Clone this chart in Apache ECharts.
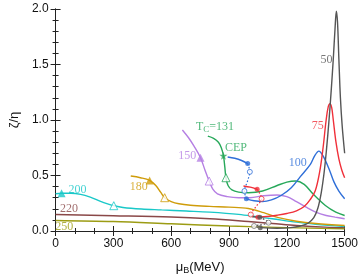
<!DOCTYPE html>
<html><head><meta charset="utf-8">
<script src="https://cdn.jsdelivr.net/npm/echarts/dist/echarts.min.js"></script>
<style>html,body{margin:0;padding:0;background:#fff}#c{width:361px;height:280px}</style>
</head><body><div id="c"></div><script>
// ---- data (mu_B in MeV, zeta/eta) ----
const xTicks = [0, 300, 600, 900, 1200, 1500];
const yTicks = [0.0, 0.5, 1.0, 1.5, 2.0];

const T50_upper = [[1020,0.128],[1060,0.125]];
const T50_meta = [[1060,0.125],[1105,0.075],[1060,0.055],[1030,0.045],[1062,0.03]];
const T50_lower = [[1062,0.03],[1150,0.025],[1220,0.03],[1270,0.045],[1310,0.07],[1340,0.12],[1360,0.2],[1378,0.34],[1393,0.52],[1405,0.72],[1418,0.98],[1430,1.26],[1441,1.55],[1450,1.82],[1457,1.98],[1463,1.88],[1470,1.55],[1478,1.2],[1487,0.95],[1500,0.7]];

const T75_upper = [[975,0.406],[1010,0.395],[1046,0.376]];
const T75_meta = [[1046,0.376],[1069,0.29],[1040,0.22],[1013,0.148],[1050,0.125]];
const T75_lower = [[1050,0.125],[1100,0.13],[1150,0.142],[1200,0.158],[1250,0.182],[1290,0.22],[1320,0.28],[1347,0.36],[1371,0.54],[1388,0.75],[1404,1.0],[1415,1.12],[1424,1.147],[1433,1.11],[1441,1.0],[1455,0.8],[1470,0.65],[1485,0.55],[1500,0.48]];

const T100_upper = [[893,0.667],[930,0.655],[965,0.635],[997,0.607]];
const T100_meta = [[997,0.607],[1008,0.533],[996,0.45],[980,0.36],[990,0.29]];
const T100_lower = [[990,0.29],[1030,0.272],[1074,0.265],[1120,0.28],[1170,0.32],[1223,0.39],[1270,0.49],[1322,0.6],[1345,0.68],[1366,0.72],[1390,0.67],[1421,0.55],[1445,0.44],[1470,0.36],[1500,0.29]];

const T131 = [[790,0.855],[820,0.835],[845,0.8],[860,0.75],[871,0.678],[878,0.58],[884,0.48],[895,0.41],[915,0.37],[950,0.35],[1000,0.345],[1074,0.36],[1150,0.41],[1200,0.44],[1245,0.45],[1290,0.42],[1338,0.33],[1400,0.23],[1454,0.17],[1500,0.14]];

const T150 = [[658,0.91],[690,0.84],[720,0.76],[752,0.66],[775,0.55],[797,0.45],[815,0.38],[840,0.335],[891,0.31],[950,0.3],[1008,0.3],[1080,0.318],[1150,0.325],[1200,0.31],[1250,0.265],[1305,0.21],[1350,0.17],[1404,0.14],[1450,0.125],[1500,0.11]];

const T180 = [[390,0.495],[440,0.48],[488,0.456],[520,0.41],[545,0.35],[566,0.30],[600,0.265],[640,0.245],[700,0.232],[800,0.222],[900,0.215],[1000,0.203],[1080,0.165],[1157,0.12],[1250,0.088],[1350,0.068],[1500,0.05]];

const T200 = [[0,0.335],[31,0.34],[80,0.34],[130,0.33],[180,0.305],[230,0.27],[270,0.245],[302,0.228],[350,0.212],[446,0.198],[550,0.19],[678,0.18],[800,0.17],[950,0.15],[1050,0.127],[1124,0.11],[1250,0.08],[1350,0.06],[1500,0.04]];

const T220 = [[0,0.148],[300,0.138],[600,0.126],[800,0.11],[1000,0.085],[1124,0.068],[1250,0.05],[1400,0.035],[1500,0.03]];

const T250 = [[0,0.095],[300,0.085],[600,0.065],[900,0.045],[1200,0.03],[1500,0.02]];

const triFilled = [[31,0.34,'#19c8c8'],[488,0.456,'#cf9c0a'],[752,0.66,'#b57fe3']];
const triHollow = [[302,0.228,'#19c8c8'],[566,0.30,'#cf9c0a'],[797,0.45,'#b57fe3'],[884,0.48,'#27a85a']];
const cep = [[871,0.678]];
const dotFilled = [[997,0.607,'#2f6fd8'],[990,0.29,'#2f6fd8'],[1046,0.376,'#f0303a'],[1050,0.125,'#f0303a'],[1060,0.125,'#555555'],[1062,0.03,'#555555']];
const dotHollow = [[1008,0.533,'#2f6fd8'],[980,0.36,'#2f6fd8'],[1069,0.29,'#f0303a'],[1013,0.148,'#f0303a'],[1105,0.075,'#777777'],[1030,0.045,'#777777']];

const curveLabels = [
  ['50',1406,1.54,'#555555'],['75',1361,0.95,'#f0303a'],['100',1257,0.61,'#2f6fd8'],
  ['T{s|C}=131',827,0.94,'#27a85a'],['CEP',936,0.75,'#27a85a'],['150',683,0.68,'#b57fe3'],
  ['180',431,0.40,'#cf9c0a'],['200',114,0.37,'#19c8c8'],['220',69,0.20,'#8a4848'],['250',45,0.035,'#9c9c14']
];

const C = {50:'#555555',75:'#f0303a',100:'#2f6fd8',131:'#27a85a',150:'#b57fe3',180:'#cf9c0a',200:'#19c8c8',220:'#8a4848',250:'#9c9c14'};

function line(data, color, dotted){
  return {type:'line', data:data, smooth:0.35, symbol:'none', clip:true,
    lineStyle:{color:color, width:dotted?1.2:1.4, type:dotted?[1.5,2]:'solid'}, z:2, silent:true};
}
const star = 'path://M50,0 L61,35 L98,35 L68,57 L79,91 L50,70 L21,91 L32,57 L2,35 L39,35 Z';

const tickStyle = {color:'#222'};
const chart = echarts.init(document.getElementById('c'), null, {renderer:'canvas'});
chart.setOption({
  animation:false,
  grid:{left:43, right:15, top:9, bottom:46},
  xAxis:[
    {type:'value', min:0, max:1500, interval:300, position:'bottom',
      axisLine:{show:true,lineStyle:tickStyle},
      axisTick:{show:true,inside:true,length:5,lineStyle:tickStyle},
      minorTick:{show:true,splitNumber:3,length:3,lineStyle:tickStyle},
      splitLine:{show:false},
      axisLabel:{color:'#111',fontSize:12,fontFamily:'Liberation Sans, Arial',margin:7,formatter:v=>String(v)},
      name:'{m|μ}{s|B}{m|(MeV)}', nameLocation:'middle', nameGap:28,
      nameTextStyle:{rich:{m:{fontSize:13,fontFamily:'Liberation Sans, Arial',color:'#111',lineHeight:16},
                          s:{fontSize:9,fontFamily:'Liberation Sans, Arial',color:'#111',verticalAlign:'bottom',lineHeight:12,padding:[6,0,0,0]}}}},
    {type:'value', min:0, max:1500, interval:300, position:'top',
      axisLine:{show:true,lineStyle:tickStyle},
      axisTick:{show:true,inside:true,length:5,lineStyle:tickStyle},
      minorTick:{show:true,splitNumber:3,length:3,lineStyle:tickStyle},
      axisLabel:{show:false}, splitLine:{show:false}}
  ],
  yAxis:[
    {type:'value', min:0, max:2, interval:0.5, position:'left',
      axisLine:{show:true,lineStyle:tickStyle},
      axisTick:{show:true,inside:true,length:5,lineStyle:tickStyle},
      minorTick:{show:true,splitNumber:5,length:3,lineStyle:tickStyle},
      splitLine:{show:false},
      axisLabel:{color:'#111',fontSize:12,fontFamily:'Liberation Sans, Arial',margin:7,formatter:v=>v.toFixed(1)},
      name:'ζ/η', nameLocation:'middle', nameGap:31, nameRotate:90,
      nameTextStyle:{fontSize:13,fontFamily:'Liberation Sans, Arial',color:'#111'}},
    {type:'value', min:0, max:2, interval:0.5, position:'right',
      axisLine:{show:true,lineStyle:tickStyle},
      axisTick:{show:true,inside:true,length:5,lineStyle:tickStyle},
      minorTick:{show:true,splitNumber:5,length:3,lineStyle:tickStyle},
      axisLabel:{show:false}, splitLine:{show:false}}
  ],
  series:[
    line(T250,C[250]), line(T220,C[220]), line(T200,C[200]), line(T180,C[180]),
    line(T150,C[150]), line(T131,C[131]),
    line(T100_upper,C[100]), line(T100_meta,C[100],true), line(T100_lower,C[100]),
    line(T75_upper,C[75]), line(T75_meta,C[75],true), line(T75_lower,C[75]),
    line(T50_upper,C[50]), line(T50_meta,C[50],true), line(T50_lower,C[50]),
    {type:'scatter', symbol:'triangle', symbolSize:8, z:5,
      data:triFilled.map(d=>({value:[d[0],d[1]], itemStyle:{color:d[2]}}))},
    {type:'scatter', symbol:'triangle', symbolSize:8, z:5,
      data:triHollow.map(d=>({value:[d[0],d[1]], itemStyle:{color:'#fff',borderColor:d[2],borderWidth:1}}))},
    {type:'scatter', symbol:star, symbolSize:8, z:6, itemStyle:{color:C[131]}, data:cep},
    {type:'scatter', symbol:'circle', symbolSize:5, z:6,
      data:dotFilled.map(d=>({value:[d[0],d[1]], itemStyle:{color:d[2]}}))},
    {type:'scatter', symbol:'circle', symbolSize:5, z:6,
      data:dotHollow.map(d=>({value:[d[0],d[1]], itemStyle:{color:'#fff',borderColor:d[2],borderWidth:1}}))},
    {type:'scatter', symbol:'circle', symbolSize:0, z:7, silent:true,
      data:curveLabels.map(d=>({value:[d[1],d[2]],
        label:{show:true, position:'inside', formatter:d[0], color:d[3], fontSize:12,
          fontFamily:'Liberation Serif, Times New Roman, serif',
          rich:{s:{fontSize:9,color:d[3],fontFamily:'Liberation Serif, serif',verticalAlign:'bottom',padding:[5,0,0,0]}}}}))}
  ]
});
</script></body></html>
